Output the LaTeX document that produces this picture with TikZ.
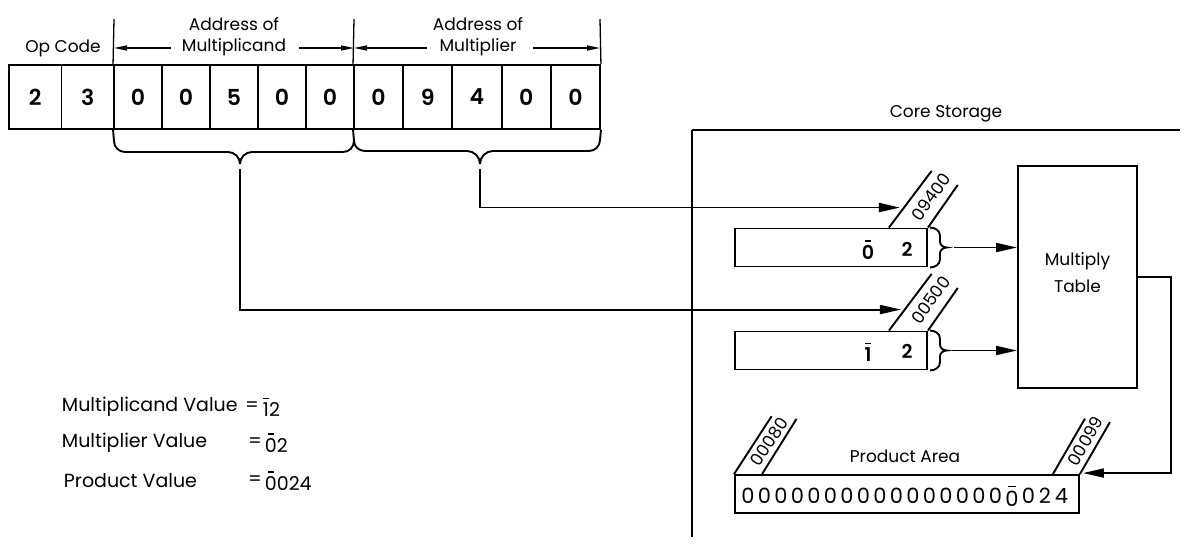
\documentclass[tikz,border=0pt]{standalone}
\usepackage{fontspec}
\setmainfont{Poppins}
\newfontfamily\semib{Poppins SemiBold}
\usetikzlibrary{arrows.meta,calc}
\newcommand\ob[1]{\begingroup\sbox0{#1}\sbox2{0}\rlap{\makebox[\wd0]{\raisebox{\dimexpr\ht0+3.5pt\relax}{\rule{0.55\wd2}{1.6pt}}}}\usebox0\endgroup}
\newcommand\regbrace[2]{%
  \draw ($(#1.north east)+(2,0)$) to[out=0,in=90] ($(#1.north east)+(12,8)$) -- ($(#1.east)+(12,-6)$)
     to[out=-90,in=180] ($(#1.east)+(19,0)$) to[out=180,in=90] ($(#1.east)+(12,6)$) -- ($(#1.south east)+(12,-8)$)
     to[out=-90,in=0] ($(#1.south east)+(2,0)$);
  \coordinate (#2) at ($(#1.east)+(19,0)$);}
\begin{document}
\begin{tikzpicture}[x=1pt,y=-1pt,line width=1.9pt,
  cell/.style={draw,minimum height=64pt,inner sep=0pt,font=\fontsize{22}{24}\semib},
  reg/.style={draw,minimum width=192pt,minimum height=38pt,inner sep=0pt},
  regd/.style={inner sep=0pt,font=\fontsize{19}{20}\semib},
  lbl/.style={inner sep=0pt,font=\fontsize{17}{19}\selectfont},
  vlbl/.style={inner sep=0pt,font=\fontsize{19}{21}\selectfont},
  tag/.style={inner sep=0pt,font=\fontsize{17}{18}\selectfont},
  pdig/.style={inner sep=0pt,font=\fontsize{21}{22}\selectfont},
  arr/.style={-{Triangle[length=21pt,width=9pt]}},
  harr/.style={line width=1.3pt,-{Triangle[length=13pt,width=5pt]}},
]
\useasboundingbox (0,0) rectangle (1189,548);
% instruction register
\node[cell,minimum width=52.5pt] (c1) at (35.25,97) {2};
\node[cell,minimum width=52.5pt] (c2) at (87.75,97) {3};
\node[cell,minimum width=48pt] (c3) at (138,97) {0};
\node[cell,minimum width=48pt] (c4) at (186,97) {0};
\node[cell,minimum width=48pt] (c5) at (234,97) {5};
\node[cell,minimum width=48pt] (c6) at (282,97) {0};
\node[cell,minimum width=48pt] (c7) at (330,97) {0};
\node[cell,minimum width=49.2pt] (c8) at (378.6,97) {0};
\node[cell,minimum width=49.2pt] (c9) at (427.8,97) {9};
\node[cell,minimum width=49.2pt] (c10) at (477,97) {4};
\node[cell,minimum width=49.2pt] (c11) at (526.2,97) {0};
\node[cell,minimum width=49.2pt] (c12) at (575.4,97) {0};
% header
\coordinate (k1) at (114,19);
\coordinate (k2) at (354,19);
\coordinate (k3) at (600,19);
\draw[line width=1.3pt] (k1) -- (c3.north west);
\draw[line width=1.3pt] (k2) -- (c8.north west);
\draw[line width=1.3pt] (k3) -- (c12.north east);
\node[lbl] (op) at (63,48) {Op Code};
\node[lbl] (ad1) at (234,24) {Address of};
\node[lbl] (mc) at (234,47) {Multiplicand};
\node[lbl] (ad2) at (478,24) {Address of};
\node[lbl] (mp) at (478,47) {Multiplier};
\draw[harr] ($(mc.west)+(-10,1)$) -- ($(mc.west -| k1)+(0,1)$);
\draw[harr] ($(mc.east)+(12,1)$) -- ($(mc.east -| k2)+(0,1)$);
\draw[harr] ($(mp.west)+(-12,1)$) -- ($(mp.west -| k2)+(0,1)$);
\draw[harr] ($(mp.east)+(16,1)$) -- ($(mp.east -| k3)+(0,1)$);
% braces
\coordinate (bA) at (240,164);
\coordinate (bB) at (480,164);
\draw (c3.south west) -- (114,141) to[out=-90,in=180] (125,152) -- (228,152) to[out=0,in=90] (bA);
\draw (bA) to[out=90,in=180] (252,152) -- (343,152) to[out=0,in=-90] (354,141) -- (c8.south west);
\draw (354,141) to[out=-90,in=180] (365,151) -- (467,151) to[out=0,in=90] (bB);
\draw (bB) to[out=90,in=180] (493,151) -- (589,151) to[out=0,in=-90] (600,140) -- (c12.south east);
% core storage
\coordinate (cs) at (692,130);
\draw (cs) -- (1180,130);
\draw (cs) -- (692,537);
\node[lbl] (cst) at (946,114) {Core Storage};
% registers in core
\node[reg] (r1) at (831,247.5) {};
\node[regd] (r1a) at (868,250) {\ob{0}};
\node[regd] (r1b) at (907,249) {2};
\node[reg] (r2) at (831,350.5) {};
\node[regd] (r2a) at (868,352) {\ob{1}};
\node[regd] (r2b) at (907,351) {2};
% slanted address tags
\draw ($(r1.north east)+(-39,0)$) -- ++(53:71pt);
\draw (r1.north east) -- ++(55:52pt);
\node[tag,rotate=54] (t1) at ($(r1.north east)+(-19.5,0)+(54:38pt)$) {09400};
\draw ($(r2.north east)+(-39,0)$) -- ++(53:71pt);
\draw (r2.north east) -- ++(55:52pt);
\node[tag,rotate=54] (t2) at ($(r2.north east)+(-19.5,0)+(54:38pt)$) {00500};
% input arrows
\coordinate (in1) at ($(r1.north east)+(-28,-20)$);
\coordinate (in2) at ($(r2.north east)+(-27,-21)$);
\draw[arr] ($(bB)+(0,5)$) |- (in1);
\draw[arr] ($(bA)+(0,5)$) |- (in2);
% braces right of registers
\regbrace{r1}{tp1}
\regbrace{r2}{tp2}
% multiply table
\node[draw,minimum width=119pt,minimum height=222pt,inner sep=0pt] (mt) at (1077.5,277) {};
\node[align=center,inner sep=0pt,font=\fontsize{17}{27}\selectfont] (mtt) at (1077.5,273) {Multiply\\Table};
\draw[arr] ($(tp1)+(7,0)$) -- (tp1 -| mt.west);
\draw[arr] ($(tp2)+(5,0)$) -- (tp2 -| mt.west);
% product area
\node[draw,minimum width=344pt,minimum height=38pt,inner sep=0pt] (pa) at (907,494) {};
\foreach \d [count=\i from 0] in {0,0,0,0,0,0,0,0,0,0,0,0,0,0,0,0,\ob{0},0,2,4}
  \node[pdig] (pd\i) at ({748+16.5*\i},496) {\d};
\node[lbl] (pat) at (905,456) {Product Area};
\draw (pa.north west) -- ++(57:69pt);
\draw ($(pa.north west)+(28,0)$) -- ++(58:65pt);
\node[tag,rotate=57] (t3) at ($(pa.north west)+(14,0)+(57:39pt)$) {00080};
\draw ($(pa.north east)+(-27,0)$) -- ++(60:64pt);
\draw (pa.north east) -- ++(60:60pt);
\node[tag,rotate=60] (t4) at ($(pa.north east)+(-13.5,0)+(60:38pt)$) {00099};
\draw[arr] (mt.east) -| ($(pa.north east)+(91,-1)$) -- ($(pa.north east)+(3,-1)$);
% values
\node[vlbl,anchor=west] (v1) at (61,407) {Multiplicand Value};
\node[vlbl] (e1) at (252,407) {=};
\node[vlbl,anchor=west] (n1) at (262,407) {\ob{1}2};
\node[vlbl,anchor=west] (v2) at (61,443) {Multiplier Value};
\node[vlbl] (e2) at (255,443) {=};
\node[vlbl,anchor=west] (n2) at (264,443) {\ob{0}2};
\node[vlbl,anchor=west] (v3) at (63,481) {Product Value};
\node[vlbl] (e3) at (255,481) {=};
\node[vlbl,anchor=west] (n3) at (264,481) {\ob{0}024};
\end{tikzpicture}
\end{document}
